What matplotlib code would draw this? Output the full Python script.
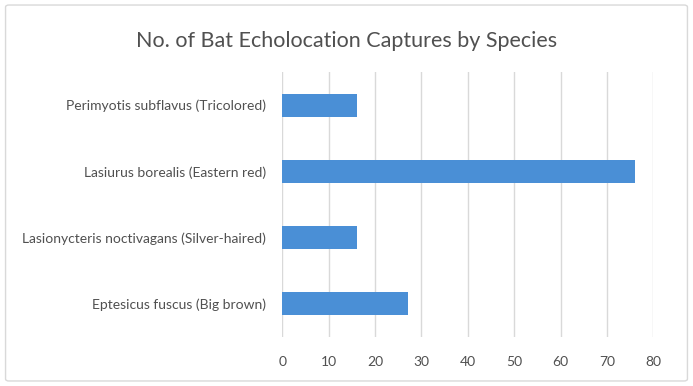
import matplotlib.pyplot as plt
from matplotlib.patches import FancyBboxPatch

species = [
    'Eptesicus fuscus (Big brown)',
    'Lasionycteris noctivagans (Silver-haired)',
    'Lasiurus borealis (Eastern red)',
    'Perimyotis subflavus (Tricolored)',
]
captures = [27, 16, 76, 16]
x_ticks = [0, 10, 20, 30, 40, 50, 60, 70, 80]

plt.rcParams['font.family'] = ['Lato', 'DejaVu Sans']
text_color = '#505050'

fig = plt.figure(figsize=(6.93, 3.86), dpi=100)
ax = fig.add_axes([0.4074, 0.1269, 0.5354, 0.6865])

# рамка вокруг всей диаграммы
border = FancyBboxPatch((0.008, 0.013), 0.984, 0.974,
                        boxstyle='round,pad=0,rounding_size=0.005',
                        transform=fig.transFigure, fill=False,
                        edgecolor='#d9d9d9', linewidth=1.0)
fig.patches.append(border)

ax.barh(range(len(species)), captures, height=0.35, color='#4A8FD6', zorder=3)

ax.set_xlim(0, 80)
ax.set_ylim(-0.5, len(species) - 0.5)
ax.set_xticks(x_ticks)
ax.set_yticks(range(len(species)))
ax.set_yticklabels(species)

ax.grid(axis='x', color='#d9d9d9', linewidth=1.0, zorder=0)
for s in ax.spines.values():
    s.set_visible(False)
ax.tick_params(axis='both', length=0, colors=text_color, labelsize=10)
ax.tick_params(axis='x', pad=14)
ax.tick_params(axis='y', pad=12)

fig.text(0.5, 0.895, 'No. of Bat Echolocation Captures by Species',
         ha='center', va='center', fontsize=15.5, color=text_color)

fig.savefig('out.png', dpi=100)
